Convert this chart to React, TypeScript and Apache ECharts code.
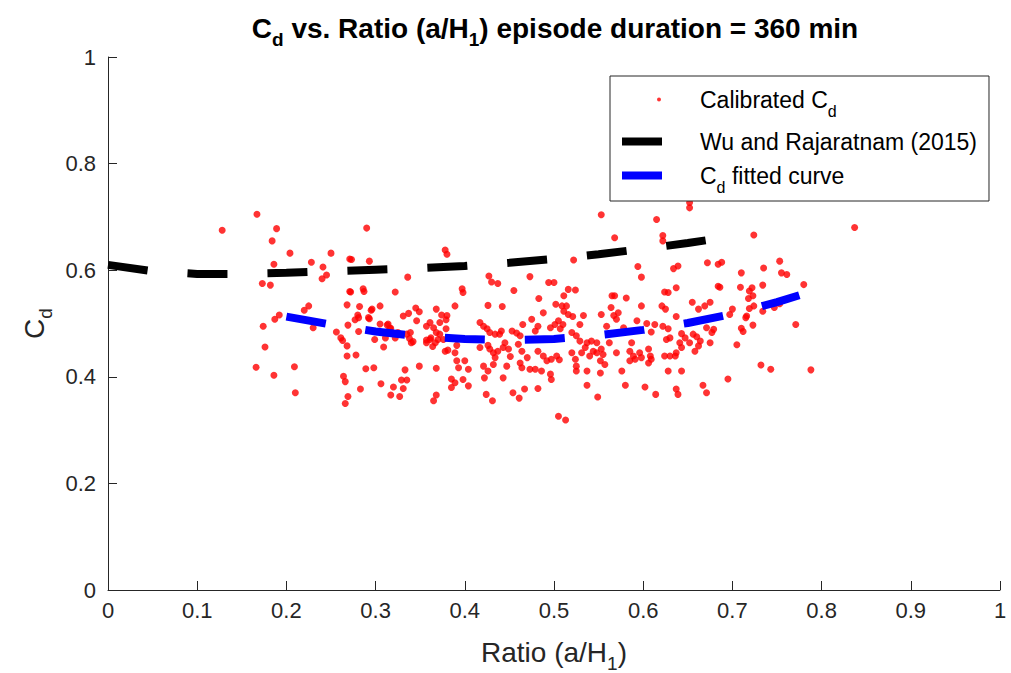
import React, { useEffect, useRef } from "react";
import * as echarts from "echarts";

// ---------- data ----------
const calibratedCd: [number, number][] = [
  [0.128,0.675],[0.167,0.705],[0.189,0.678],[0.184,0.655],[0.204,0.632],[0.186,0.611],[0.173,0.575],[0.182,0.572],
  [0.192,0.516],[0.187,0.508],[0.174,0.495],[0.176,0.456],[0.166,0.418],[0.186,0.403],[0.209,0.419],[0.210,0.370],
  [0.250,0.632],[0.228,0.615],[0.241,0.606],[0.245,0.591],[0.240,0.584],[0.225,0.533],[0.220,0.525],[0.230,0.492],
  [0.256,0.484],[0.261,0.473],[0.263,0.468],[0.268,0.458],[0.268,0.439],[0.264,0.401],[0.266,0.391],[0.269,0.363],
  [0.266,0.350],[0.271,0.621],[0.271,0.560],[0.268,0.535],[0.269,0.497],
  [0.290,0.679],[0.273,0.620],[0.293,0.617],[0.336,0.587],[0.272,0.559],[0.286,0.565],[0.287,0.560],[0.322,0.559],
  [0.282,0.532],[0.295,0.525],[0.305,0.533],[0.280,0.516],[0.277,0.507],[0.293,0.509],[0.281,0.485],[0.278,0.441],
  [0.299,0.470],[0.309,0.456],[0.313,0.497],[0.317,0.491],[0.331,0.514],[0.337,0.519],[0.345,0.529],[0.349,0.522],
  [0.346,0.505],[0.339,0.483],[0.338,0.472],[0.342,0.466],[0.368,0.527],[0.289,0.415],[0.298,0.417],[0.333,0.413],
  [0.349,0.420],[0.368,0.416],[0.306,0.387],[0.329,0.394],[0.335,0.394],[0.320,0.381],[0.331,0.378],[0.317,0.366],
  [0.327,0.363],[0.283,0.377],[0.368,0.366],[0.365,0.355],
  [0.357,0.495],[0.361,0.502],[0.365,0.492],[0.368,0.483],[0.362,0.473],[0.357,0.469],[0.367,0.464],[0.370,0.470],
  [0.357,0.464],[0.361,0.470],[0.364,0.457],[0.381,0.450],[0.296,0.527],[0.292,0.511],[0.281,0.511],[0.305,0.499],
  [0.314,0.499],[0.316,0.491],[0.311,0.473],[0.322,0.473],[0.335,0.480],[0.340,0.464],[0.325,0.483],
  [0.378,0.638],[0.380,0.630],
  [0.522,0.619],[0.427,0.589],[0.430,0.578],[0.437,0.575],[0.473,0.588],[0.397,0.565],[0.398,0.558],[0.455,0.562],
  [0.494,0.577],[0.500,0.577],[0.516,0.564],[0.524,0.563],[0.483,0.547],[0.511,0.552],[0.389,0.533],[0.426,0.534],
  [0.442,0.532],[0.488,0.520],[0.502,0.536],[0.509,0.533],[0.514,0.533],[0.511,0.523],[0.516,0.517],[0.521,0.513],
  [0.374,0.516],[0.380,0.515],[0.379,0.507],[0.372,0.502],[0.379,0.490],[0.372,0.480],[0.376,0.470],[0.417,0.502],
  [0.421,0.495],[0.425,0.490],[0.428,0.483],[0.434,0.480],[0.439,0.480],[0.441,0.486],[0.465,0.498],[0.475,0.508],
  [0.482,0.495],[0.479,0.486],[0.453,0.486],[0.458,0.482],[0.462,0.477],[0.496,0.492],[0.501,0.498],[0.505,0.505],
  [0.510,0.498],[0.507,0.490],[0.520,0.483],[0.525,0.477],[0.378,0.448],[0.389,0.445],[0.391,0.459],[0.417,0.455],
  [0.426,0.459],[0.428,0.452],[0.432,0.445],[0.437,0.448],[0.443,0.455],[0.445,0.464],[0.434,0.436],[0.432,0.423],
  [0.449,0.452],[0.451,0.438],[0.447,0.420],[0.460,0.461],[0.464,0.448],[0.470,0.436],[0.462,0.426],[0.464,0.417],
  [0.473,0.414],[0.479,0.414],[0.482,0.448],[0.488,0.439],[0.492,0.430],[0.497,0.433],[0.503,0.439],[0.506,0.432],
  [0.486,0.411],[0.496,0.405],[0.497,0.395],[0.520,0.445],[0.524,0.433],[0.525,0.420],[0.525,0.411],[0.391,0.430],
  [0.400,0.430],[0.393,0.417],[0.404,0.414],[0.421,0.420],[0.426,0.411],[0.422,0.398],[0.443,0.398],[0.385,0.396],
  [0.389,0.389],[0.398,0.395],[0.404,0.383],[0.385,0.380],[0.424,0.367],[0.431,0.355],[0.454,0.370],[0.461,0.360],
  [0.467,0.377],[0.482,0.378],[0.505,0.326],[0.513,0.319],
  [0.652,0.727],[0.652,0.717],[0.553,0.704],[0.615,0.695],[0.568,0.661],[0.622,0.665],[0.622,0.655],[0.672,0.614],
  [0.684,0.611],[0.594,0.607],[0.598,0.587],[0.634,0.603],[0.639,0.608],[0.637,0.567],[0.684,0.570],[0.565,0.552],
  [0.568,0.552],[0.581,0.548],[0.624,0.559],[0.628,0.558],[0.655,0.540],[0.675,0.540],[0.669,0.533],[0.662,0.527],
  [0.564,0.530],[0.598,0.533],[0.621,0.533],[0.625,0.527],[0.533,0.515],[0.553,0.517],[0.567,0.515],[0.572,0.520],
  [0.570,0.508],[0.637,0.513],[0.593,0.505],[0.604,0.500],[0.613,0.498],[0.622,0.495],[0.628,0.490],[0.559,0.495],
  [0.578,0.492],[0.609,0.484],[0.529,0.498],[0.671,0.492],[0.679,0.489],[0.677,0.483],[0.656,0.480],[0.660,0.475],
  [0.652,0.464],[0.643,0.481],[0.647,0.473],[0.641,0.464],[0.643,0.455],[0.664,0.467],[0.662,0.458],[0.658,0.448],
  [0.675,0.464],[0.626,0.470],[0.630,0.473],[0.529,0.467],[0.537,0.464],[0.542,0.467],[0.548,0.464],[0.535,0.455],
  [0.531,0.445],[0.544,0.448],[0.548,0.445],[0.540,0.439],[0.553,0.452],[0.555,0.442],[0.552,0.430],[0.557,0.423],
  [0.562,0.464],[0.570,0.445],[0.587,0.464],[0.585,0.448],[0.589,0.439],[0.585,0.430],[0.591,0.433],[0.596,0.445],
  [0.598,0.436],[0.606,0.452],[0.608,0.439],[0.606,0.426],[0.609,0.433],[0.624,0.439],[0.630,0.439],[0.636,0.439],
  [0.637,0.445],[0.537,0.411],[0.552,0.407],[0.576,0.411],[0.628,0.411],[0.643,0.411],[0.537,0.384],[0.580,0.384],
  [0.602,0.381],[0.614,0.367],[0.637,0.377],[0.639,0.367],[0.667,0.384],[0.671,0.370],[0.549,0.362],
  [0.837,0.680],[0.724,0.666],[0.688,0.615],[0.753,0.617],[0.710,0.595],[0.735,0.604],[0.755,0.595],[0.761,0.592],
  [0.686,0.568],[0.709,0.568],[0.722,0.567],[0.719,0.561],[0.723,0.552],[0.718,0.547],[0.734,0.572],[0.780,0.573],
  [0.700,0.527],[0.697,0.517],[0.719,0.528],[0.724,0.533],[0.716,0.514],[0.715,0.511],[0.734,0.523],[0.747,0.530],
  [0.753,0.537],[0.723,0.497],[0.710,0.491],[0.712,0.485],[0.771,0.498],[0.705,0.460],[0.732,0.422],[0.743,0.414],
  [0.788,0.413],[0.695,0.396],
];

const wuRatio = [0, 0.05, 0.1, 0.15, 0.2, 0.25, 0.3, 0.35, 0.4, 0.45, 0.5, 0.55, 0.6, 0.65, 0.67];
const wuCd = [0.610, 0.598, 0.593, 0.593, 0.595, 0.598, 0.601, 0.604, 0.608, 0.614, 0.621, 0.630, 0.640, 0.651, 0.656];

const fitRatio = [0.2, 0.25, 0.3, 0.35, 0.4, 0.45, 0.5, 0.55, 0.6, 0.65, 0.7, 0.75, 0.775];
const fitCd = [0.513, 0.498, 0.485, 0.476, 0.471, 0.469, 0.471, 0.478, 0.488, 0.501, 0.518, 0.540, 0.553];

const xTickLabels = ["0", "0.1", "0.2", "0.3", "0.4", "0.5", "0.6", "0.7", "0.8", "0.9", "1"];
const yTickLabels = ["0", "0.2", "0.4", "0.6", "0.8", "1"];

const seriesNames = ["Calibrated Cd", "Wu and Rajaratnam (2015)", "Cd fitted curve"];
const legendLabels: Record<string, string> = {
  "Calibrated Cd": "{sp| }{m|Calibrated C}{s|d}",
  "Wu and Rajaratnam (2015)": "{sp| }{m|Wu and Rajaratnam (2015)}",
  "Cd fitted curve": "{sp| }{m|C}{s|d}{m| fitted curve}",
};

const FONT = "'Liberation Sans', Arial, Helvetica, sans-serif";
const AXIS_COLOR = "#262626";

export default function App() {
  const ref = useRef<HTMLDivElement>(null);

  useEffect(() => {
    if (!ref.current) return;
    const chart = echarts.init(ref.current, null, { renderer: "svg" });

    const wuData = wuRatio.map((x, i) => [x, wuCd[i]]);
    const fitData = fitRatio.map((x, i) => [x, fitCd[i]]);

    const nameRich = {
      m: { fontFamily: FONT, fontSize: 28, color: AXIS_COLOR, lineHeight: 32 },
      s: { fontFamily: FONT, fontSize: 19, color: AXIS_COLOR, height: 10, verticalAlign: "bottom" },
    };

    chart.setOption({
      animation: false,
      backgroundColor: "#ffffff",
      title: {
        text: "{m|C}{s|d}{m| vs. Ratio (a/H}{s|1}{m|) episode duration = 360 min}",
        left: 555,
        top: 11,
        textAlign: "center",
        padding: 0,
        textStyle: {
          rich: {
            m: { fontFamily: FONT, fontSize: 28, fontWeight: "bold", color: "#000", lineHeight: 34 },
            s: { fontFamily: FONT, fontSize: 19, fontWeight: "bold", color: "#000", height: 12, verticalAlign: "bottom" },
          },
        },
      },
      grid: { left: 108, right: 11, top: 57, bottom: 83, containLabel: false, outerBoundsMode: "none" },
      legend: {
        orient: "vertical",
        left: 610,
        top: 76,
        padding: [12, 12, 6, 8],
        itemGap: 11,
        itemWidth: 40,
        itemHeight: 8,
        selectedMode: false,
        backgroundColor: "#ffffff",
        borderColor: AXIS_COLOR,
        borderWidth: 1,
        borderRadius: 0,
        lineStyle: { width: "inherit", type: "solid" },
        data: [
          { name: seriesNames[0], icon: "path://M0,0M40,8M39,4A2,2,0,1,1,35,4A2,2,0,1,1,39,4Z", itemStyle: { color: "#ff0000" } },
          { name: seriesNames[1] },
          { name: seriesNames[2] },
        ],
        formatter: (name: string) => legendLabels[name] || name,
        textStyle: {
          rich: {
            sp: { width: 33, fontSize: 23, lineHeight: 30 },
            m: { fontFamily: FONT, fontSize: 23, color: "#000", lineHeight: 30 },
            s: { fontFamily: FONT, fontSize: 16, color: "#000", height: 7, verticalAlign: "bottom" },
          },
        },
      },
      xAxis: {
        type: "value",
        min: 0,
        max: 1,
        interval: 0.1,
        name: "{m|Ratio (a/H}{s|1}{m|)}",
        nameLocation: "middle",
        nameGap: 46,
        nameTextStyle: { rich: nameRich },
        axisLine: { show: true, lineStyle: { color: AXIS_COLOR, width: 1 } },
        axisTick: { show: true, inside: true, length: 9, lineStyle: { color: AXIS_COLOR, width: 1 } },
        axisLabel: {
          margin: 9,
          fontFamily: FONT,
          fontSize: 22,
          color: AXIS_COLOR,
          formatter: (v: number) => xTickLabels[Math.round(v * 10)] ?? String(v),
        },
        splitLine: { show: false },
      },
      yAxis: {
        type: "value",
        min: 0,
        max: 1,
        interval: 0.2,
        name: "{m|C}{s|d}",
        nameLocation: "middle",
        nameRotate: 90,
        nameGap: 55,
        nameTextStyle: { rich: nameRich },
        axisLine: { show: true, lineStyle: { color: AXIS_COLOR, width: 1 } },
        axisTick: { show: true, inside: true, length: 9, lineStyle: { color: AXIS_COLOR, width: 1 } },
        axisLabel: {
          margin: 12,
          fontFamily: FONT,
          fontSize: 22,
          color: AXIS_COLOR,
          formatter: (v: number) => yTickLabels[Math.round(v * 5)] ?? String(v),
        },
        splitLine: { show: false },
      },
      series: [
        {
          name: seriesNames[0],
          type: "scatter",
          data: calibratedCd,
          symbol: "circle",
          symbolSize: 7,
          itemStyle: { color: "#ff0000" },
          emphasis: { disabled: true },
        },
        {
          name: seriesNames[1],
          type: "line",
          data: wuData,
          symbol: "none",
          showSymbol: false,
          smooth: false,
          lineStyle: { color: "#000000", width: 8, type: [40, 40], cap: "butt" },
          itemStyle: { color: "#000000" },
          emphasis: { disabled: true },
        },
        {
          name: seriesNames[2],
          type: "line",
          data: fitData,
          symbol: "none",
          showSymbol: false,
          smooth: false,
          lineStyle: { color: "#0000ff", width: 8, type: [40, 40], cap: "butt" },
          itemStyle: { color: "#0000ff" },
          emphasis: { disabled: true },
        },
      ],
    });

    return () => chart.dispose();
  }, []);

  return (
    <div
      ref={ref}
      style={{ position: "absolute", left: 0, top: 0, width: 1011, height: 673, background: "#fff" }}
    />
  );
}
